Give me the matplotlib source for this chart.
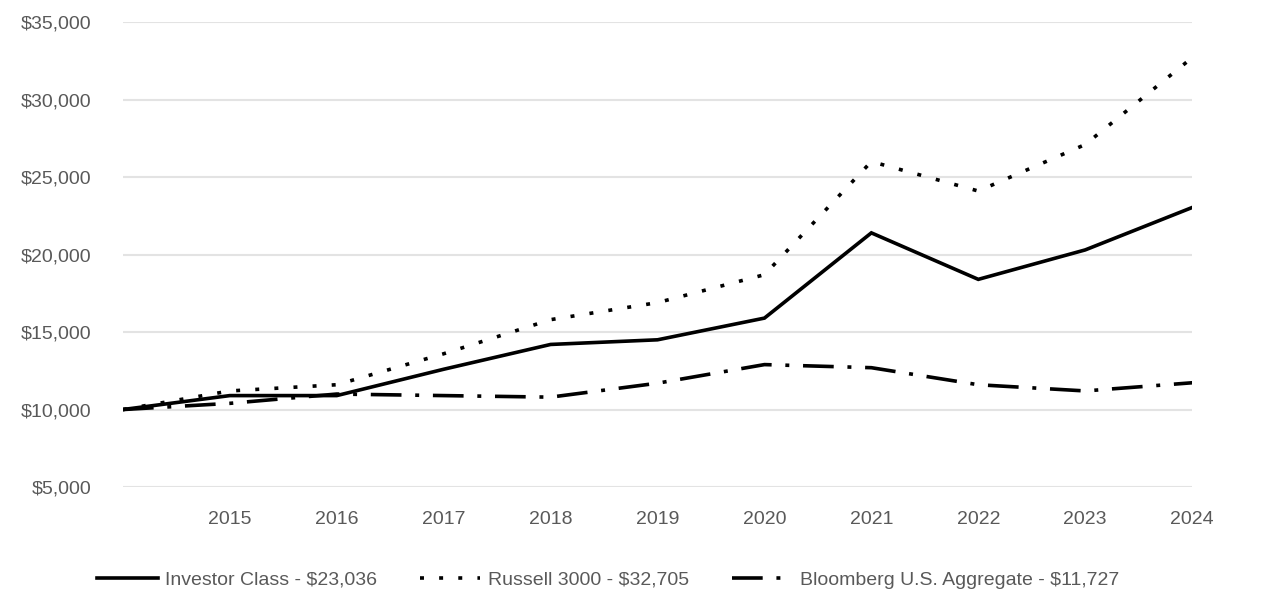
import matplotlib
matplotlib.use("Agg")
import matplotlib.pyplot as plt
from matplotlib.ticker import FuncFormatter

years = ["", "2015", "2016", "2017", "2018", "2019", "2020", "2021", "2022", "2023", "2024"]
investor = [10000, 10900, 10900, 12600, 14200, 14500, 15900, 21400, 18400, 20300, 23036]
russell = [10000, 11200, 11600, 13600, 15800, 16900, 18700, 26000, 24100, 27100, 32705]
bloomberg = [10000, 10400, 11000, 10900, 10800, 11700, 12900, 12700, 11600, 11200, 11727]

plt.rcParams['font.family'] = ['Liberation Sans', 'DejaVu Sans']

fig = plt.figure(figsize=(12.86, 6.14), dpi=100)
ax = fig.add_axes([0.0956, 0.2068, 0.8314, 0.7572])

x = list(range(len(years)))
ax.plot(x, investor, color='black', lw=2.6, solid_joinstyle='miter',
        label="Investor Class - $23,036")
ax.plot(x, russell, color='black', lw=2.6, linestyle=(0, (1.1, 4.2)),
        dash_capstyle='butt', label="Russell 3000 - $32,705")
ax.plot(x, bloomberg, color='black', lw=2.6, linestyle=(0, (8.5, 3.8, 1.1, 3.8)),
        dash_capstyle='butt', label="Bloomberg U.S. Aggregate - $11,727")

ax.set_xlim(0, len(years) - 1)
ax.set_ylim(5000, 35000)
ax.set_yticks(range(5000, 35001, 5000))
ax.yaxis.set_major_formatter(FuncFormatter(lambda v, p: f"${v:,.0f}"))
ax.set_xticks(x)
ax.set_xticklabels(years)

ax.grid(axis='y', color='#e3e3e3', lw=1.5)
ax.set_axisbelow(True)
for s in ax.spines.values():
    s.set_visible(False)
ax.tick_params(length=0, labelsize=14, labelcolor='#595959')
ax.tick_params(axis='y', pad=23)
ax.tick_params(axis='x', pad=17)

ax.legend(loc='center', bbox_to_anchor=(0.454, -0.2), ncol=3, frameon=False,
          fontsize=14, labelcolor='#595959', handlelength=3.1, columnspacing=2.2,
          handletextpad=0.4)

fig.savefig("out.png", dpi=100)
